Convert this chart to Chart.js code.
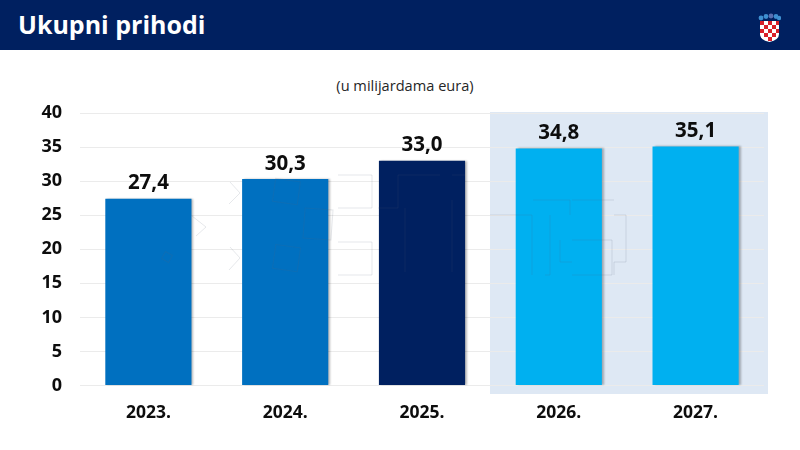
<!DOCTYPE html>
<html lang="hr"><head><meta charset="utf-8">
<script src="https://cdn.jsdelivr.net/npm/chart.js@4"></script>
<style>
html,body{margin:0;padding:0;background:#fff;width:800px;height:450px;overflow:hidden;font-family:"Open Sans",sans-serif}
#hdr{position:absolute;left:0;top:0;width:800px;height:50px;background:#002060}
#ttl{position:absolute;left:18px;top:6px;color:#fff;font-weight:700;font-size:25px;line-height:36px;white-space:nowrap}
#crest{position:absolute;left:758px;top:13px}
#band{position:absolute;left:490px;top:112px;width:278px;height:282px;background:#DEE8F4}
#sub{position:absolute;left:0;width:810px;top:76px;text-align:center;font-size:14.6px;line-height:18px;color:#262626}
#wrap{position:absolute;left:0;top:0;width:800px;height:450px}
#wm{position:absolute;left:0;top:0;pointer-events:none}
</style></head><body>
<div id="band"></div>
<div id="hdr"><div id="ttl">Ukupni prihodi</div>
<svg id="crest" width="23" height="30" viewBox="0 0 23 30">
<g fill="#3E8FD0"><circle cx="3" cy="5" r="2.4"/><circle cx="8" cy="3.5" r="2.4"/><circle cx="13" cy="3" r="2.4" fill="#5A6FB0"/><circle cx="18" cy="3.5" r="2.4"/><circle cx="21" cy="5" r="2.2"/></g>
<path id="sh" d="M2 8H21V21Q21 27 11.5 29Q2 27 2 21Z" fill="#fff"/>
<g fill="#D8202A"><rect x="2" y="8" width="4" height="4"/><rect x="10" y="8" width="4" height="4"/><rect x="18" y="8" width="3" height="4"/><rect x="6" y="12" width="4" height="4"/><rect x="14" y="12" width="4" height="4"/><rect x="2" y="16" width="4" height="4"/><rect x="10" y="16" width="4" height="4"/><rect x="18" y="16" width="3" height="4"/><rect x="6" y="20" width="4" height="4"/><rect x="14" y="20" width="4" height="4"/><rect x="10" y="24" width="4" height="4"/></g>
</svg></div>
<div id="sub">(u milijardama eura)</div>
<div id="wrap"><canvas id="c" width="800" height="450"></canvas></div>
<svg id="wm" width="800" height="450" fill="none" stroke="rgba(90,100,120,0.15)" stroke-width="1">
<g transform="rotate(8 286 191)"><rect x="274" y="180" width="25" height="23"/></g>
<g transform="rotate(4 318 224)"><rect x="304" y="209" width="28" height="30"/></g>
<g transform="rotate(8 286 258)"><rect x="274" y="246" width="25" height="24"/></g>
<path d="M230 182L240 193L229 204M230 247L240 258L229 270M192 216L206 227L196 236"/>
<g transform="rotate(30 167 257)"><rect x="163" y="253" width="8" height="8"/></g>
<path d="M338 175H372V208H338M338 242H372V275H338M378 208H398V175H440M452 175H465M452 200V272M405 208V272"/>
<path d="M490 215H532V275M533 200H570V215M572 200H614M550 215V275H545M572 240H612V275H572M560 240V262H572M614 215H626V262H614V275"/>
</svg>
<script>
const categories = ["2023.","2024.","2025.","2026.","2027."];
const values = [27.4,30.3,33.0,34.8,35.1];
const barColors = ["#0070C0","#0070C0","#002060","#00B0F0","#00B0F0"];
const valueLabels = ["27,4","30,3","33,0","34,8","35,1"];
const FONT = '"Open Sans", sans-serif';

const barShadow = {
  id:'barShadow',
  beforeDatasetsDraw(ch){const x=ch.ctx;x.save();x.shadowColor='rgba(0,0,0,0.28)';x.shadowBlur=2;x.shadowOffsetX=2;x.shadowOffsetY=0;},
  afterDatasetsDraw(ch){ch.ctx.restore();}
};
const valueLabelPlugin = {
  id:'valueLabelPlugin',
  afterDraw(ch){
    const x=ch.ctx; x.save();
    x.font='700 20.5px '+FONT; x.fillStyle='#0d0d0d'; x.textAlign='center'; x.textBaseline='bottom';
    ch.getDatasetMeta(0).data.forEach((el,i)=>x.fillText(valueLabels[i],el.x,el.y-5));
    x.restore();
  }
};
new Chart(document.getElementById('c'),{
  type:'bar',
  data:{labels:categories,datasets:[{data:values,backgroundColor:barColors,borderWidth:0,barPercentage:0.63,categoryPercentage:1}]},
  options:{
    responsive:false,animation:false,
    layout:{padding:{left:0,right:36,top:113,bottom:0}},
    plugins:{legend:{display:false},tooltip:{enabled:false}},
    scales:{
      x:{grid:{display:false},border:{display:false},
         ticks:{color:'#0d0d0d',font:{family:FONT,weight:'700',size:17.5},padding:9,maxRotation:0},
         afterFit(s){s.height=64.5;}},
      y:{min:0,max:40,grid:{color:'#EBEBEB',lineWidth:1,drawTicks:false},border:{display:false},
         ticks:{stepSize:5,color:'#0d0d0d',font:{family:FONT,weight:'700',size:18},padding:18},
         afterFit(s){s.width=80;}}
    }
  },
  plugins:[barShadow,valueLabelPlugin]
});
</script></body></html>
